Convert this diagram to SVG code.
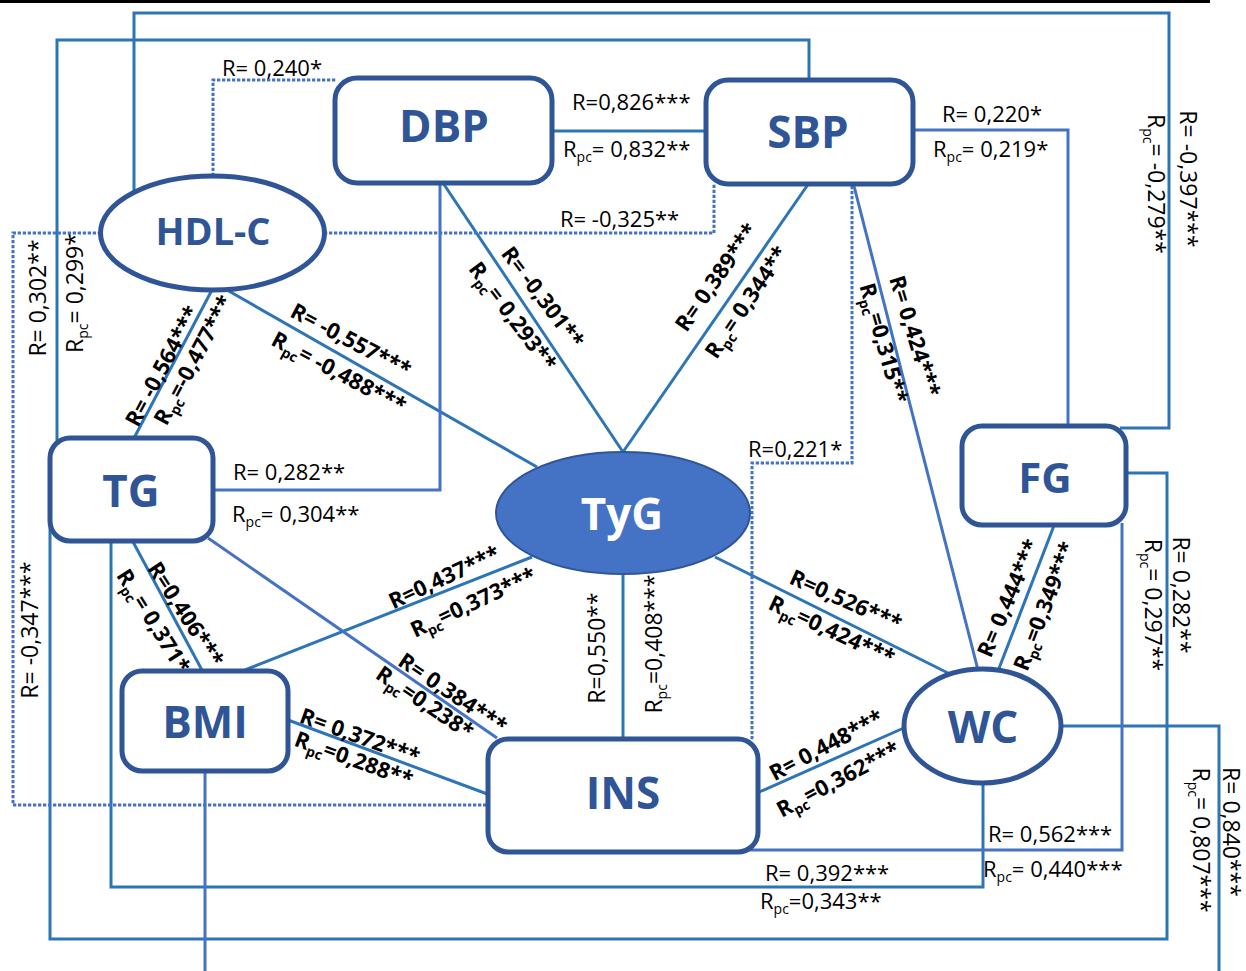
<svg xmlns="http://www.w3.org/2000/svg" width="1246" height="971" viewBox="0 0 1246 971">
<style>
.c1{fill:none;stroke:#2E75B6;stroke-width:3}
.c2{fill:none;stroke:#4472C4;stroke-width:3}
.dot{fill:none;stroke:#4472C4;stroke-width:3;stroke-dasharray:3.3 1.7}
.node{fill:#fff;stroke:#2F5597;stroke-width:5}
.nt{font-family:"Open Sans","Liberation Sans",sans-serif;font-weight:bold;fill:#2F5597;text-anchor:middle}
.lb{font-family:"Open Sans","Liberation Sans",sans-serif;font-size:22px;fill:#000}
.vl{font-family:"Open Sans","Liberation Sans",sans-serif;font-size:23px;fill:#000;text-anchor:middle}
.bl{font-family:"Open Sans","Liberation Sans",sans-serif;font-size:22px;font-weight:bold;fill:#000;text-anchor:middle}
.sub{font-size:14px}
</style>
<rect x="0" y="0" width="1210" height="3" fill="#000"/>
<g id="connectors">
<path class="c1" d="M134,192 V13 H1169 V428 H1120"/>
<path class="c1" d="M57,445 V40 H809 V80"/>
<path class="c1" d="M550,131 H708"/>
<path class="c1" d="M443,183 L623,452"/>
<path class="c1" d="M809,183 L623,452"/>
<path class="c1" d="M213,288 L133,440"/>
<path class="c1" d="M227,290 L537,467"/>
<path class="c1" d="M132,540 L203,672"/>
<path class="c1" d="M111,540 V887 H983 V782"/>
<path class="c1" d="M50,490 V939 H1167 V473 H1125"/>
<path class="c1" d="M245,670 L532,557"/>
<path class="c1" d="M288,720 L490,795"/>
<path class="c1" d="M623,572 V740"/>
<path class="c1" stroke-width="4" d="M715,557 L948,673"/>
<path class="c1" d="M757,793 L906,727"/>
<path class="c1" d="M1055,523 L998,671"/>
<path class="c1" d="M1060,726 H1219 V971"/>
<path class="c2" d="M205,770 V971"/>
<path class="c2" d="M911,130 H1068 V428"/>
<path class="c2" d="M440,183 V490 H212"/>
<path class="c2" d="M208,538 L497,738"/>
<path class="c2" d="M854,186 L978,670"/>
<path class="c2" d="M740,850 H1122 V523"/>
<path class="dot" d="M213,176 V80 H337"/>
<path class="dot" d="M324,233 H714 V183"/>
<path class="dot" d="M101,233 H13 V805 H490"/>
<path class="dot" d="M852,186 V463 H752 V740"/>
</g>
<g id="labels">
<text class="lb" x="222" y="76">R= 0,240*</text>
<text class="lb" x="572" y="110">R=0,826***</text>
<text class="lb" x="563" y="157">R<tspan class="sub" dy="5">pc</tspan><tspan dy="-5">= 0,832**</tspan></text>
<text class="lb" x="560" y="227">R= -0,325**</text>
<text class="lb" x="942" y="122">R= 0,220*</text>
<text class="lb" x="933" y="157">R<tspan class="sub" dy="5">pc</tspan><tspan dy="-5">= 0,219*</tspan></text>
<text class="lb" x="748" y="457">R=0,221*</text>
<text class="lb" x="233" y="480">R= 0,282**</text>
<text class="lb" x="232" y="522">R<tspan class="sub" dy="5">pc</tspan><tspan dy="-5">= 0,304**</tspan></text>
<text class="lb" x="988" y="842">R= 0,562***</text>
<text class="lb" x="983" y="877">R<tspan class="sub" dy="5">pc</tspan><tspan dy="-5">= 0,440***</tspan></text>
<text class="lb" x="765" y="881" font-size="19">R= 0,392***</text>
<text class="lb" x="760" y="909" font-size="19">R<tspan class="sub" dy="5">pc</tspan><tspan dy="-5">=0,343**</tspan></text>
<text class="vl" transform="translate(1188,179) rotate(90)" y="8">R= -0,397***</text>
<text class="vl" transform="translate(1156,184) rotate(90)" y="8">R<tspan class="sub" dy="5">pc</tspan><tspan dy="-5">= -0,279**</tspan></text>
<text class="vl" transform="translate(38,298) rotate(-90)" y="8">R= 0,302**</text>
<text class="vl" transform="translate(75,293) rotate(-90)" y="8">R<tspan class="sub" dy="5">pc</tspan><tspan dy="-5">= 0,299*</tspan></text>
<text class="vl" transform="translate(30,630) rotate(-90)" y="8">R= -0,347***</text>
<text class="vl" transform="translate(597,648) rotate(-90)" y="8">R=0,550**</text>
<text class="vl" transform="translate(654,644) rotate(-90)" y="8">R<tspan class="sub" dy="5">pc</tspan><tspan dy="-5">=0,408***</tspan></text>
<text class="vl" transform="translate(1181,595) rotate(90)" y="8">R= 0,282**</text>
<text class="vl" transform="translate(1153,605) rotate(90)" y="8">R<tspan class="sub" dy="5">pc</tspan><tspan dy="-5">= 0,297**</tspan></text>
<text class="vl" transform="translate(1230,832) rotate(90)" y="7" font-size="21">R= 0,840***</text>
<text class="vl" transform="translate(1201,840) rotate(90)" y="8">R<tspan class="sub" dy="5">pc</tspan><tspan dy="-5">= 0,807***</tspan></text>
<text class="bl" transform="translate(162,366) rotate(-62)" y="8">R= -0,564***</text>
<text class="bl" transform="translate(193,360) rotate(-62)" y="8">R<tspan class="sub" dy="5">pc</tspan><tspan dy="-5">=-0,477***</tspan></text>
<text class="bl" transform="translate(351,340) rotate(28)" y="8">R= -0,557***</text>
<text class="bl" transform="translate(339,372) rotate(28)" y="8">R<tspan class="sub" dy="5">pc</tspan><tspan dy="-5">= -0,488***</tspan></text>
<text class="bl" transform="translate(543,297) rotate(53)" y="8">R= -0,301**</text>
<text class="bl" transform="translate(513,316) rotate(53)" y="8">R<tspan class="sub" dy="5">pc</tspan><tspan dy="-5">= 0,293**</tspan></text>
<text class="bl" transform="translate(716,277) rotate(-55)" y="8">R= 0,389***</text>
<text class="bl" transform="translate(746,302) rotate(-56)" y="8">R<tspan class="sub" dy="5">pc</tspan><tspan dy="-5">= 0,344**</tspan></text>
<text class="bl" transform="translate(915,336) rotate(73)" y="8">R= 0,424***</text>
<text class="bl" transform="translate(884,343) rotate(74)" y="8">R<tspan class="sub" dy="5">pc</tspan><tspan dy="-5">=0,315**</tspan></text>
<text class="bl" transform="translate(186,614) rotate(57)" y="8">R=0,406***</text>
<text class="bl" transform="translate(160,631) rotate(58)" y="8">R<tspan class="sub" dy="5">pc</tspan><tspan dy="-5">= 0,371***</tspan></text>
<text class="bl" transform="translate(453,693) rotate(34)" y="8">R= 0,384***</text>
<text class="bl" transform="translate(425,702) rotate(34)" y="8">R<tspan class="sub" dy="5">pc</tspan><tspan dy="-5">=0,238*</tspan></text>
<text class="bl" transform="translate(444,577) rotate(-25)" y="8">R=0,437***</text>
<text class="bl" transform="translate(473,602) rotate(-25)" y="8">R<tspan class="sub" dy="5">pc</tspan><tspan dy="-5">=0,373***</tspan></text>
<text class="bl" transform="translate(360,736) rotate(20)" y="8">R= 0,372***</text>
<text class="bl" transform="translate(354,759) rotate(20)" y="8">R<tspan class="sub" dy="5">pc</tspan><tspan dy="-5">=0,288**</tspan></text>
<text class="bl" transform="translate(846,600) rotate(24)" y="8">R=0,526***</text>
<text class="bl" transform="translate(832,630) rotate(25)" y="8">R<tspan class="sub" dy="5">pc</tspan><tspan dy="-5">=0,424***</tspan></text>
<text class="bl" transform="translate(826,745) rotate(-28)" y="8">R= 0,448***</text>
<text class="bl" transform="translate(838,779) rotate(-28)" y="8">R<tspan class="sub" dy="5">pc</tspan><tspan dy="-5">=0,362***</tspan></text>
<text class="bl" transform="translate(1008,598) rotate(-67)" y="8">R= 0,444***</text>
<text class="bl" transform="translate(1044,606) rotate(-69)" y="8">R<tspan class="sub" dy="5">pc</tspan><tspan dy="-5">=0,349***</tspan></text>
</g>
<g id="HDL-C"><ellipse class="node" cx="212.5" cy="233" rx="112" ry="57"/><text class="nt" x="213" y="245" font-size="38">HDL-C</text></g>
<g id="DBP"><rect class="node" x="335" y="78" width="217" height="105" rx="22"/><text class="nt" x="444" y="142" font-size="44">DBP</text></g>
<g id="SBP"><rect class="node" x="706" y="80" width="207" height="104" rx="22"/><text class="nt" x="808" y="148" font-size="44">SBP</text></g>
<g id="TG"><rect class="node" x="50" y="438" width="163" height="103" rx="20"/><text class="nt" x="131" y="507" font-size="44">TG</text></g>
<g id="TyG"><ellipse cx="623" cy="513" rx="127" ry="61" fill="#4472C4" stroke="#2F5597" stroke-width="2"/><text class="nt" x="622" y="530" font-size="44" style="fill:#fff">TyG</text></g>
<g id="FG"><rect class="node" x="962" y="426" width="164" height="99" rx="20"/><text class="nt" x="1045" y="493" font-size="42">FG</text></g>
<g id="BMI"><rect class="node" x="122" y="671" width="166" height="100" rx="20"/><text class="nt" x="205" y="738" font-size="44">BMI</text></g>
<g id="INS"><rect class="node" x="488" y="739" width="270" height="113" rx="20"/><text class="nt" x="623" y="809" font-size="44">INS</text></g>
<g id="WC"><ellipse class="node" cx="982.5" cy="726" rx="78.5" ry="57"/><text class="nt" x="983" y="743" font-size="44">WC</text></g>
</svg>
